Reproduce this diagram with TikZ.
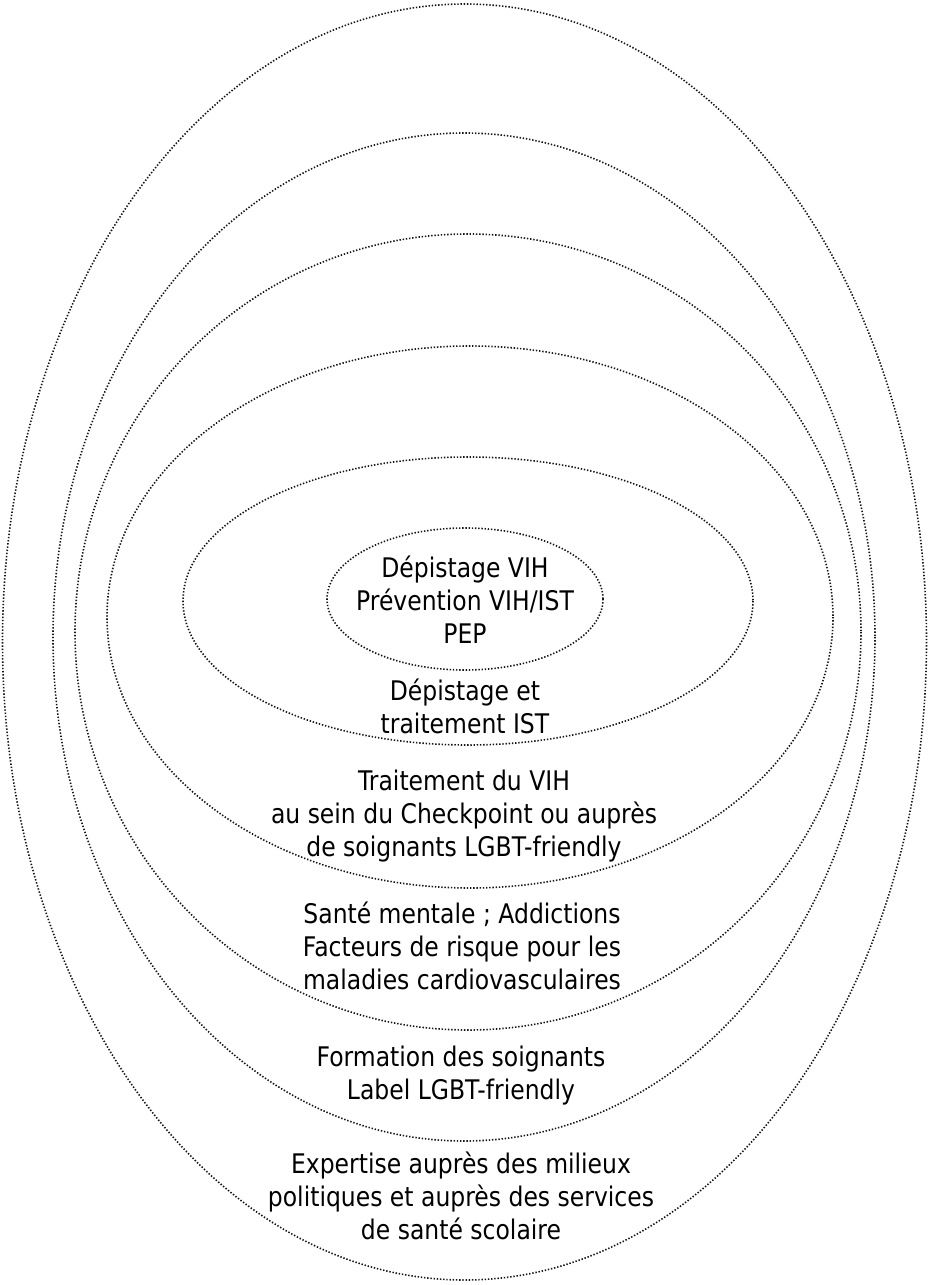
\documentclass[tikz,border=0pt]{standalone}
\usepackage{fontspec}
\setmainfont{DejaVu Sans}[FakeStretch=0.87]
\usepackage{xcolor}
\definecolor{ringgray}{RGB}{20, 20, 20}

\tikzset{
  ring/.style={draw=ringgray, line width=1.6pt, dash pattern=on 1.4pt off 1.8pt},
  fieldtext/.style={align=center, inner sep=0pt, font=\fontsize{27}{33}\selectfont}
}

\begin{document}
\begin{tikzpicture}[x=1pt, y=-1pt]
  \useasboundingbox (0,0) rectangle (929,1285);

  % Nested dotted rings, outermost first
  \foreach \cx/\cy/\rx/\ry in {464.5/642/462/638, 464/637/411/504, 468/632/393/398,
                               470/617/363/271, 468/601/285/144, 465/599/138/71} {
    \draw[ring] (\cx,\cy) ellipse [x radius=\rx, y radius=\ry];
  }

  % Texts of the rings
  \node[fieldtext] (core)   at (465,600)  {Dépistage VIH\\Prévention VIH/IST\\PEP};
  \node[fieldtext] (ist)    at (465,706)  {Dépistage et\\traitement IST};
  \node[fieldtext] (treat)  at (464,816)  {Traitement du VIH\\au sein du Checkpoint ou auprès\\de soignants LGBT-friendly};
  \node[fieldtext] (mental) at (462,946)  {Santé mentale ; Addictions\\Facteurs de risque pour les\\maladies cardiovasculaires};
  \node[fieldtext] (train)  at (461,1076) {Formation des soignants\\Label LGBT-friendly};
  \node[fieldtext] (policy) at (461,1196) {Expertise auprès des milieux\\politiques et auprès des services\\de santé scolaire};
\end{tikzpicture}
\end{document}
